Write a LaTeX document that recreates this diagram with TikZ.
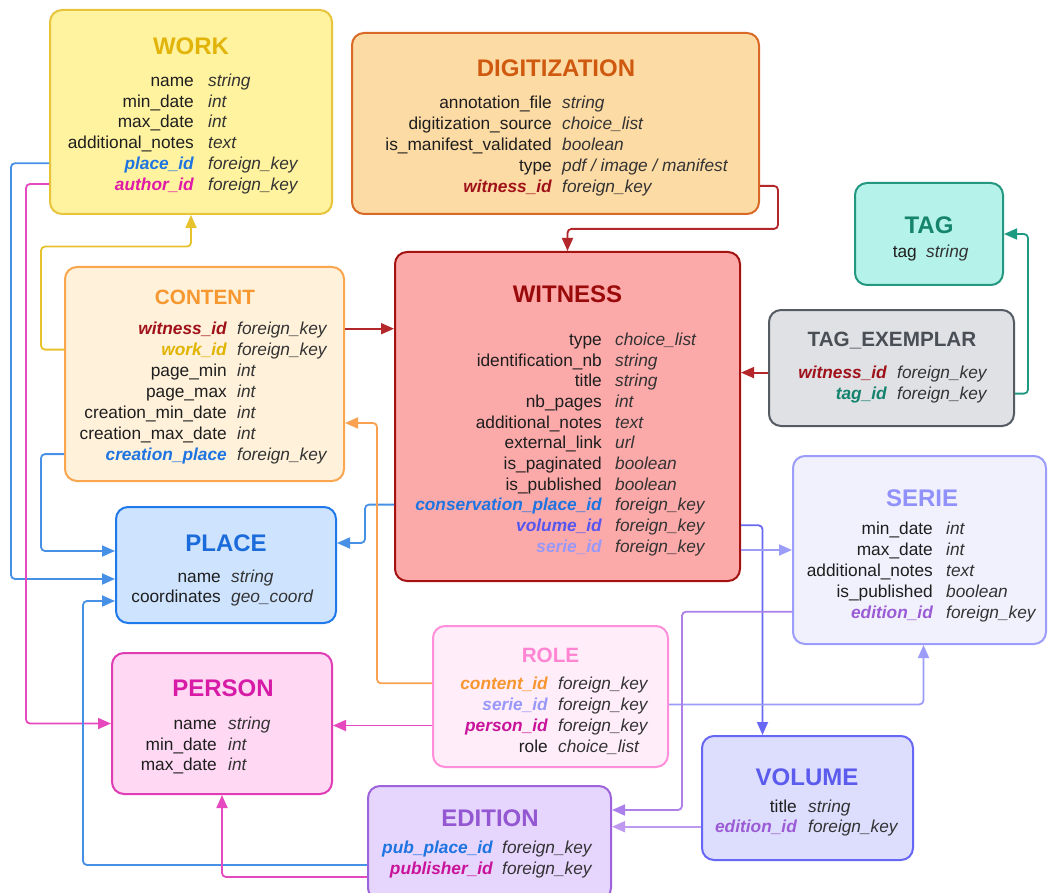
\documentclass[tikz,border=0pt]{standalone}
\usepackage{fontspec}
\setmainfont{Liberation Sans}
\usepackage{tikz}
\usetikzlibrary{arrows.meta}

% table colours
\definecolor{workfill}{HTML}{FFF3A0}    \definecolor{workline}{HTML}{E8C43A}    \definecolor{workhead}{HTML}{E2B40A}
\definecolor{digifill}{HTML}{FDDBA5}    \definecolor{digiline}{HTML}{D86A26}    \definecolor{digihead}{HTML}{CF5A0F}
\definecolor{tagfill}{HTML}{B5F2EA}     \definecolor{tagline}{HTML}{23977F}     \definecolor{taghead}{HTML}{16846C}
\definecolor{tagexfill}{HTML}{DFE1E5}   \definecolor{tagexline}{HTML}{555B63}   \definecolor{tagexhead}{HTML}{4A4F56}
\definecolor{witfill}{HTML}{FCA9A9}     \definecolor{witline}{HTML}{A51212}     \definecolor{withead}{HTML}{9A0A0A}
\definecolor{contfill}{HTML}{FFF1DA}    \definecolor{contline}{HTML}{F9A64E}    \definecolor{conthead}{HTML}{F7972F}
\definecolor{placefill}{HTML}{CDE3FE}   \definecolor{placeline}{HTML}{2079E8}   \definecolor{placehead}{HTML}{1B6BDA}
\definecolor{seriefill}{HTML}{F1F1FE}   \definecolor{serieline}{HTML}{9C9DFB}   \definecolor{seriehead}{HTML}{9091FA}
\definecolor{rolefill}{HTML}{FFEDF9}    \definecolor{roleline}{HTML}{FF8FDA}    \definecolor{rolehead}{HTML}{FF84D3}
\definecolor{persfill}{HTML}{FFD8F4}    \definecolor{persline}{HTML}{E03CB4}    \definecolor{pershead}{HTML}{D71BA6}
\definecolor{volfill}{HTML}{DDDDFE}     \definecolor{volline}{HTML}{6767F5}     \definecolor{volhead}{HTML}{5B5BEE}
\definecolor{edfill}{HTML}{E6D5FD}      \definecolor{edline}{HTML}{9D63DB}      \definecolor{edhead}{HTML}{9457D2}
% text colours
\definecolor{attrcol}{HTML}{1E1E1E}     \definecolor{typecol}{HTML}{333333}
\definecolor{keyred}{HTML}{A0121A}      \definecolor{keygold}{HTML}{E0B400}     \definecolor{keyblue}{HTML}{1E74E0}
\definecolor{keypink}{HTML}{E01AA8}     \definecolor{keymag}{HTML}{C9139A}      \definecolor{keyviolet}{HTML}{5555F0}
\definecolor{keyperi}{HTML}{9898F8}     \definecolor{keyorange}{HTML}{F7962F}   \definecolor{keypurple}{HTML}{9B5BD5}
\definecolor{keyteal}{HTML}{13836D}
% link colours
\definecolor{lgold}{HTML}{E8C22C}       \definecolor{lred}{HTML}{B3262A}        \definecolor{lblue}{HTML}{4690E6}
\definecolor{lpink}{HTML}{E649BD}       \definecolor{lorange}{HTML}{F9A150}     \definecolor{lteal}{HTML}{1E9A83}
\definecolor{lviolet}{HTML}{6868F4}     \definecolor{lperi}{HTML}{9C9CFA}       \definecolor{lpurple}{HTML}{AC80EA}
\definecolor{llilac}{HTML}{BF98F0}

\begin{document}
\begin{tikzpicture}[x=1pt, y=-1pt]

    % --- DEFINE STYLES ---
    % Style for a table box
    \tikzstyle{tbl} = [draw, line width=2pt, rounded corners=12pt, inner sep=0pt]
    % Style for table titles
    \tikzstyle{ttl} = [font=\fontsize{24}{24}\selectfont\bfseries, inner sep=0pt, text height=17pt, text depth=0pt]
    \tikzstyle{ttlsmall} = [ttl, font=\fontsize{20.7}{21}\selectfont\bfseries, text height=14.8pt]
    % Style for attribute names (right aligned) and types (left aligned)
    \tikzstyle{attr} = [font=\fontsize{17.3}{20}\selectfont, text=attrcol, inner sep=0pt, text height=12.5pt, text depth=0pt, anchor=east]
    \tikzstyle{typ} = [attr, font=\fontsize{17.3}{20}\selectfont\itshape, text=typecol, anchor=west]
    % Style for foreign keys
    \tikzstyle{fk} = [attr, font=\fontsize{17.3}{20}\selectfont\bfseries\itshape]
    \tikzstyle{fk_red} = [fk, text=keyred]
    \tikzstyle{fk_gold} = [fk, text=keygold]
    \tikzstyle{fk_blue} = [fk, text=keyblue]
    \tikzstyle{fk_pink} = [fk, text=keypink]
    \tikzstyle{fk_mag} = [fk, text=keymag]
    \tikzstyle{fk_violet} = [fk, text=keyviolet]
    \tikzstyle{fk_peri} = [fk, text=keyperi]
    \tikzstyle{fk_orange} = [fk, text=keyorange]
    \tikzstyle{fk_purple} = [fk, text=keypurple]
    \tikzstyle{fk_teal} = [fk, text=keyteal]
    % Style for links
    \tikzstyle{lnk} = [line width=1.8pt, rounded corners=4pt, -{Triangle[length=13pt,width=11pt]}]

    \useasboundingbox (0,0) rectangle (1049,893);

    % --- TABLE BOXES ---
    \node[tbl, draw=workline, fill=workfill, minimum width=282pt, minimum height=204pt] (work) at (191,112) {};
    \node[tbl, draw=digiline, fill=digifill, minimum width=407pt, minimum height=181pt] (digit) at (555.5,123.5) {};
    \node[tbl, draw=tagline, fill=tagfill, minimum width=148pt, minimum height=102pt] (tag) at (929,234) {};
    \node[tbl, draw=tagexline, fill=tagexfill, minimum width=245pt, minimum height=116pt] (tagex) at (891.5,368) {};
    \node[tbl, draw=witline, fill=witfill, minimum width=345pt, minimum height=329pt] (witness) at (567.5,416.5) {};
    \node[tbl, draw=contline, fill=contfill, minimum width=279pt, minimum height=214pt] (content) at (204.5,374) {};
    \node[tbl, draw=placeline, fill=placefill, minimum width=220pt, minimum height=116pt] (place) at (226,565) {};
    \node[tbl, draw=serieline, fill=seriefill, minimum width=253pt, minimum height=188pt] (serie) at (919.5,550) {};
    \node[tbl, draw=roleline, fill=rolefill, minimum width=235pt, minimum height=141pt] (role) at (550.5,696.5) {};
    \node[tbl, draw=persline, fill=persfill, minimum width=220pt, minimum height=141pt] (person) at (222,723.5) {};
    \node[tbl, draw=volline, fill=volfill, minimum width=211pt, minimum height=124pt] (volume) at (807.5,798) {};
    \node[tbl, draw=edline, fill=edfill, minimum width=243pt, minimum height=114pt] (edition) at (489.5,843) {};

    % --- TITLES ---
    \node[ttl, text=workhead] (work-h) at (191,46) {WORK};
    \node[ttl, text=digihead] (digit-h) at (556,68) {DIGITIZATION};
    \node[ttl, text=taghead] (tag-h) at (929,225) {TAG};
    \node[ttlsmall, text=tagexhead] (tagex-h) at (892,339) {TAG\_EXEMPLAR};
    \node[ttl, text=withead] (witness-h) at (567.5,294) {WITNESS};
    \node[ttlsmall, text=conthead] (content-h) at (205,297) {CONTENT};
    \node[ttl, text=placehead] (place-h) at (226,543) {PLACE};
    \node[ttl, text=seriehead] (serie-h) at (922,498) {SERIE};
    \node[ttlsmall, text=rolehead] (role-h) at (550.5,655) {ROLE};
    \node[ttl, text=pershead] (person-h) at (223,688) {PERSON};
    \node[ttl, text=volhead] (volume-h) at (807,777) {VOLUME};
    \node[ttl, text=edhead] (edition-h) at (490,818) {EDITION};

    % --- ROWS ---
    \foreach \n/\t/\s [count=\i] in {name/string/attr, min\_date/int/attr, max\_date/int/attr,
            additional\_notes/text/attr, place\_id/foreign\_key/fk_blue, author\_id/foreign\_key/fk_pink} {
        \node[\s] (work-n\i) at (194, 59.2+20.8*\i) {\n};
        \node[typ] (work-t\i) at (208, 59.2+20.8*\i) {\t};
    }
    \foreach \n/\t/\s [count=\i] in {annotation\_file/string/attr, digitization\_source/choice\_list/attr,
            is\_manifest\_validated/boolean/attr, type/{pdf / image / manifest}/attr, witness\_id/foreign\_key/fk_red} {
        \node[\s] (digit-n\i) at (552, 81.9+20.8*\i) {\n};
        \node[typ] (digit-t\i) at (562, 81.9+20.8*\i) {\t};
    }
    \node[attr] (tag-n1) at (917,251.5) {tag};
    \node[typ] (tag-t1) at (926,251.5) {string};
    \foreach \n/\t/\s [count=\i] in {witness\_id/foreign\_key/fk_red, tag\_id/foreign\_key/fk_teal} {
        \node[\s] (tagex-n\i) at (887, 351.6+21*\i) {\n};
        \node[typ] (tagex-t\i) at (897, 351.6+21*\i) {\t};
    }
    \foreach \n/\t/\s [count=\i] in {type/choice\_list/attr, identification\_nb/string/attr, title/string/attr,
            nb\_pages/int/attr, additional\_notes/text/attr, external\_link/url/attr, is\_paginated/boolean/attr,
            is\_published/boolean/attr, conservation\_place\_id/foreign\_key/fk_blue,
            volume\_id/foreign\_key/fk_violet, serie\_id/foreign\_key/fk_peri} {
        \node[\s] (witness-n\i) at (602, 318.6+20.67*\i) {\n};
        \node[typ] (witness-t\i) at (615, 318.6+20.67*\i) {\t};
    }
    \foreach \n/\t/\s [count=\i] in {witness\_id/foreign\_key/fk_red, work\_id/foreign\_key/fk_gold,
            page\_min/int/attr, page\_max/int/attr, creation\_min\_date/int/attr,
            creation\_max\_date/int/attr, creation\_place/foreign\_key/fk_blue} {
        \node[\s] (content-n\i) at (227, 307.8+20.9*\i) {\n};
        \node[typ] (content-t\i) at (237, 307.8+20.9*\i) {\t};
    }
    \foreach \n/\t/\s [count=\i] in {name/string/attr, coordinates/geo\_coord/attr} {
        \node[\s] (place-n\i) at (221, 555.3+20.7*\i) {\n};
        \node[typ] (place-t\i) at (231, 555.3+20.7*\i) {\t};
    }
    \foreach \n/\t/\s [count=\i] in {min\_date/int/attr, max\_date/int/attr, additional\_notes/text/attr,
            is\_published/boolean/attr, edition\_id/foreign\_key/fk_purple} {
        \node[\s] (serie-n\i) at (933, 507.5+20.85*\i) {\n};
        \node[typ] (serie-t\i) at (946, 507.5+20.85*\i) {\t};
    }
    \foreach \n/\t/\s [count=\i] in {content\_id/foreign\_key/fk_orange, serie\_id/foreign\_key/fk_peri,
            person\_id/foreign\_key/fk_mag, role/choice\_list/attr} {
        \node[\s] (role-n\i) at (548, 662.2+21.1*\i) {\n};
        \node[typ] (role-t\i) at (558, 662.2+21.1*\i) {\t};
    }
    \foreach \n/\t/\s [count=\i] in {name/string/attr, min\_date/int/attr, max\_date/int/attr} {
        \node[\s] (person-n\i) at (217, 702.9+20.6*\i) {\n};
        \node[typ] (person-t\i) at (228, 702.9+20.6*\i) {\t};
    }
    \foreach \n/\t/\s [count=\i] in {title/string/attr, edition\_id/foreign\_key/fk_purple} {
        \node[\s] (volume-n\i) at (797, 785.3+20.7*\i) {\n};
        \node[typ] (volume-t\i) at (808, 785.3+20.7*\i) {\t};
    }
    \foreach \n/\t/\s [count=\i] in {pub\_place\_id/foreign\_key/fk_blue, publisher\_id/foreign\_key/fk_mag} {
        \node[\s] (edition-n\i) at (493, 826.3+21*\i) {\n};
        \node[typ] (edition-t\i) at (502, 826.3+21*\i) {\t};
    }

    % --- LINKS ---
    % 1. from WORK
    \draw[lnk, lblue] (work.west |- work-n5) -- ++(-38,0) |- ([yshift=-14pt]place.west);
    \draw[lnk, lpink] (work.west |- work-n6) -- ++(-23,0) |- (person.west);
    % 2. from CONTENT
    \draw[lnk, lgold] (content.west |- content-n2) -- ++(-23,0) -- ++(0,-103) -| (work.south);
    \draw[lnk, lred] (content.east |- content-n1) -- (witness.west |- content-n1);
    \draw[lnk, lblue] (content.west |- content-n7) -- ++(-23,0) |- ([yshift=14pt]place.west);
    % 3. from DIGITIZATION and TAG_EXEMPLAR
    \draw[lnk, lred] (digit.east |- digit-n5) -- ++(18,0) -- ++(0,43) -| (witness.north);
    \draw[lnk, lred] (tagex.west |- tagex-n1) -- (witness.east |- tagex-n1);
    \draw[lnk, lteal] (tagex.east |- tagex-n2) -- ++(13,0) |- (tag.east);
    % 4. from WITNESS
    \draw[lnk, lblue] (witness.west |- witness-n9) -- ++(-29,0) |- ([yshift=22pt]place.east);
    \draw[lnk, lviolet] (witness.east |- witness-n10) -| ([xshift=-45pt]volume.north);
    \draw[lnk, lperi] (witness.east |- serie.west) -- (serie.west);
    % 5. from ROLE
    \draw[lnk, lorange] (role.west |- role-n1) -- ++(-55,0) |- ([yshift=-49pt]content.east);
    \draw[lnk, lpink] (role.west |- role-n3) -- (person.east |- role-n3);
    \draw[lnk, lperi] (role.east |- role-n2) -| ([xshift=4pt]serie.south);
    % 6. from SERIE, VOLUME and EDITION
    \draw[lnk, lpurple] (serie.west |- serie-n5) -- ++(-110,0) |- ([yshift=33pt]edition.east);
    \draw[lnk, llilac] (volume.west |- volume-n2) -- (edition.east |- volume-n2);
    \draw[lnk, lblue] ([yshift=-22pt]edition.west) -- ++(-284,0) |- ([yshift=-36pt]place.west);
    \draw[lnk, lpink] ([yshift=-34pt]edition.west) -| (person.south);

\end{tikzpicture}
\end{document}
